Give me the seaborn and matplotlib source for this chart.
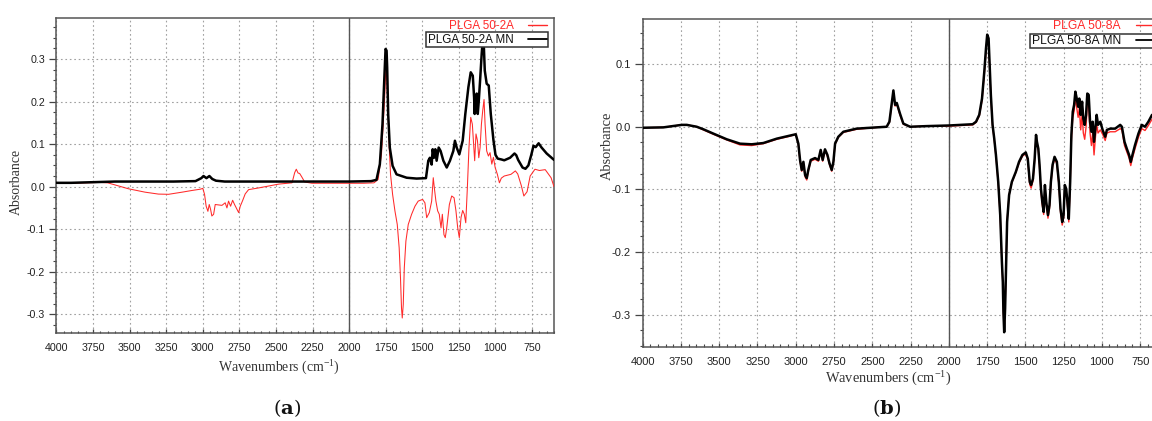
import numpy as np
import pandas as pd
import matplotlib
matplotlib.use("Agg")
import matplotlib.pyplot as plt
from matplotlib.lines import Line2D
from matplotlib.ticker import MultipleLocator, FormatStrFormatter
import seaborn as sns

# ── Data ────────────────────────────────────────────────────────────────────
# panel (a): PLGA 50-2A MN (black, thick)
A_MN_WN = [4000, 3900, 3800, 3700, 3600, 3400, 3200, 3050, 3010, 2995, 2975, 2955,
           2935, 2910, 2850, 2600, 2400, 2200, 2000, 1850, 1813, 1790, 1772, 1760,
           1751, 1744, 1740, 1733, 1722, 1703, 1676, 1607, 1539, 1475, 1459, 1448,
           1436, 1429, 1420, 1411, 1402, 1388, 1375, 1356, 1333, 1311, 1288, 1277,
           1265, 1247, 1224, 1206, 1185, 1169, 1155, 1146, 1142, 1137, 1133, 1128,
           1121, 1114, 1105, 1094, 1087, 1080, 1073, 1060, 1046, 1032, 1014, 1000,
           985, 960, 940, 900, 870, 858, 845, 815, 795, 775, 755, 740, 725, 705,
           685, 650, 600]
A_MN_ABS = [0.009, 0.009, 0.010, 0.011, 0.012, 0.012, 0.012, 0.013, 0.020, 0.025, 0.020, 0.025,
            0.018, 0.014, 0.012, 0.012, 0.012, 0.012, 0.012, 0.013, 0.016, 0.053, 0.147, 0.250,
            0.324, 0.320, 0.280, 0.170, 0.092, 0.049, 0.029, 0.021, 0.019, 0.020, 0.061, 0.068,
            0.052, 0.088, 0.068, 0.088, 0.061, 0.092, 0.084, 0.061, 0.045, 0.061, 0.084, 0.108,
            0.092, 0.076, 0.108, 0.171, 0.234, 0.269, 0.261, 0.210, 0.171, 0.210, 0.179, 0.219,
            0.171, 0.202, 0.250, 0.313, 0.345, 0.336, 0.273, 0.242, 0.238, 0.171, 0.110, 0.075,
            0.066, 0.064, 0.062, 0.068, 0.078, 0.074, 0.063, 0.045, 0.042, 0.050, 0.075, 0.096, 0.093, 0.102,
            0.092, 0.078, 0.063]

# panel (a): PLGA 50-2A (red, thin)
A_WN = [4000, 3900, 3800, 3700, 3650, 3580, 3508, 3394, 3303, 3234, 3142, 3074,
        3017, 3000, 2988, 2977, 2965, 2956, 2947, 2938, 2926, 2915, 2892, 2869,
        2847, 2835, 2824, 2810, 2796, 2783, 2765, 2755, 2744, 2728, 2710, 2687,
        2618, 2481, 2390, 2372, 2361, 2349, 2338, 2322, 2304, 2254, 2100, 1900,
        1830, 1802, 1779, 1767, 1756, 1749, 1742, 1735, 1726, 1717, 1703, 1687,
        1671, 1658, 1649, 1642, 1637, 1630, 1623, 1612, 1596, 1573, 1550, 1528,
        1498, 1482, 1470, 1464, 1452, 1436, 1425, 1418, 1407, 1395, 1384, 1372,
        1363, 1352, 1343, 1333, 1315, 1299, 1283, 1270, 1258, 1247, 1235, 1224,
        1213, 1203, 1192, 1181, 1169, 1158, 1149, 1142, 1133, 1123, 1114, 1105,
        1096, 1087, 1078, 1071, 1060, 1048, 1037, 1025, 1014, 1002, 987, 973,
        960, 940, 894, 864, 848, 823, 806, 784, 763, 730, 700, 660, 620, 600]
A_ABS = [0.008, 0.008, 0.009, 0.010, 0.009, 0.002, -0.005, -0.013, -0.0175, -0.018, -0.013, -0.009,
         -0.006, -0.004, -0.018, -0.046, -0.058, -0.042, -0.053, -0.069, -0.065, -0.042, -0.043, -0.044,
         -0.038, -0.050, -0.034, -0.046, -0.032, -0.042, -0.054, -0.061, -0.046, -0.033, -0.017, -0.007,
         -0.003, 0.006, 0.009, 0.033, 0.041, 0.032, 0.031, 0.022, 0.011, 0.008, 0.008, 0.008,
         0.009, 0.017, 0.076, 0.147, 0.218, 0.281, 0.250, 0.187, 0.092, 0.029, -0.018, -0.057,
         -0.089, -0.144, -0.215, -0.286, -0.309, -0.277, -0.191, -0.128, -0.089, -0.065, -0.046, -0.034,
         -0.030, -0.038, -0.073, -0.069, -0.061, -0.034, 0.021, -0.002, -0.034, -0.057, -0.065, -0.097,
         -0.065, -0.113, -0.120, -0.097, -0.042, -0.022, -0.026, -0.057, -0.097, -0.120, -0.072, -0.056,
         -0.065, -0.085, -0.002, 0.092, 0.163, 0.147, 0.100, 0.061, 0.124, 0.108, 0.068, 0.092,
         0.147, 0.179, 0.205, 0.147, 0.084, 0.072, 0.080, 0.053, 0.069, 0.045, 0.029, 0.009,
         0.020, 0.025, 0.029, 0.037, 0.030, 0.002, -0.022, -0.012, 0.025, 0.041, 0.038, 0.040, 0.021, 0.000]

# panel (b): shared wavenumber grid for PLGA 50-8A and PLGA 50-8A MN
B_WN = [4000, 3865, 3745, 3712, 3647, 3604, 3538, 3451, 3364, 3288, 3212, 3124,
        3037, 3000, 2983, 2972, 2961, 2950, 2939, 2928, 2918, 2902, 2874, 2852,
        2837, 2824, 2809, 2793, 2780, 2765, 2754, 2743, 2722, 2689, 2602, 2471,
        2406, 2388, 2373, 2362, 2351, 2340, 2319, 2297, 2253, 2147, 2000, 1844,
        1822, 1801, 1783, 1768, 1757, 1749, 1740, 1734, 1725, 1714, 1703, 1692,
        1677, 1664, 1653, 1647, 1643, 1638, 1632, 1625, 1619, 1606, 1588, 1562,
        1541, 1519, 1497, 1484, 1471, 1462, 1450, 1439, 1430, 1424, 1415, 1407,
        1398, 1389, 1380, 1372, 1363, 1352, 1342, 1333, 1322, 1309, 1294, 1281,
        1270, 1259, 1250, 1242, 1233, 1225, 1216, 1207, 1199, 1190, 1181, 1173,
        1164, 1155, 1147, 1138, 1129, 1121, 1112, 1103, 1095, 1086, 1077, 1068,
        1060, 1051, 1043, 1034, 1025, 1010, 995, 978, 967, 945, 913, 880,
        869, 852, 837, 822, 811, 800, 783, 761, 739, 718, 696, 672, 640, 600]
B_MN_ABS = [-0.0016, -0.001, 0.003, 0.003, 0.000, -0.004, -0.011, -0.020, -0.027, -0.028, -0.026, -0.019,
            -0.014, -0.012, -0.027, -0.053, -0.069, -0.056, -0.077, -0.082, -0.069, -0.053, -0.050, -0.053,
            -0.037, -0.053, -0.036, -0.045, -0.058, -0.069, -0.056, -0.027, -0.016, -0.008, -0.003, -0.001,
            0.000, 0.008, 0.037, 0.058, 0.035, 0.038, 0.021, 0.005, 0.000, 0.001, 0.002, 0.004,
            0.008, 0.019, 0.045, 0.088, 0.125, 0.147, 0.141, 0.104, 0.050, 0.003, -0.019, -0.045,
            -0.088, -0.141, -0.216, -0.248, -0.296, -0.328, -0.290, -0.216, -0.152, -0.109, -0.088, -0.072,
            -0.056, -0.045, -0.041, -0.051, -0.088, -0.093, -0.083, -0.051, -0.013, -0.024, -0.035, -0.061,
            -0.099, -0.120, -0.136, -0.093, -0.120, -0.141, -0.125, -0.088, -0.061, -0.048, -0.056, -0.088,
            -0.131, -0.152, -0.141, -0.093, -0.099, -0.120, -0.147, -0.088, -0.013, 0.024, 0.035, 0.056,
            0.045, 0.032, 0.045, 0.019, 0.040, 0.013, 0.003, 0.019, 0.053, 0.051, 0.008, -0.008,
            0.008, -0.024, -0.003, 0.019, 0.003, 0.008, -0.005, -0.016, -0.005, -0.003, -0.003, 0.003,
            0.000, -0.024, -0.035, -0.045, -0.056, -0.045, -0.029, -0.011, 0.003, 0.000, 0.008, 0.019, 0.015, 0.020]
B_ABS = [-0.0016, -0.001, 0.003, 0.003, 0.000, -0.005, -0.012, -0.021, -0.029, -0.030, -0.027, -0.020,
         -0.015, -0.012, -0.028, -0.055, -0.071, -0.058, -0.080, -0.085, -0.071, -0.055, -0.052, -0.055,
         -0.038, -0.055, -0.037, -0.047, -0.060, -0.071, -0.057, -0.028, -0.017, -0.009, -0.004, -0.001,
         0.000, 0.007, 0.035, 0.054, 0.033, 0.036, 0.019, 0.004, 0.000, 0.001, 0.001, 0.003,
         0.007, 0.017, 0.042, 0.084, 0.120, 0.142, 0.136, 0.100, 0.047, 0.001, -0.021, -0.047,
         -0.090, -0.143, -0.218, -0.250, -0.298, -0.326, -0.288, -0.214, -0.150, -0.109, -0.089, -0.073,
         -0.058, -0.047, -0.043, -0.054, -0.092, -0.098, -0.086, -0.054, -0.016, -0.027, -0.038, -0.065,
         -0.103, -0.125, -0.140, -0.098, -0.124, -0.146, -0.130, -0.092, -0.064, -0.051, -0.059, -0.092,
         -0.136, -0.157, -0.146, -0.098, -0.104, -0.125, -0.152, -0.093, -0.020, 0.015, 0.025, 0.048,
         0.030, 0.015, 0.030, -0.005, 0.020, -0.010, -0.020, 0.000, 0.040, 0.035, -0.010, -0.030,
         -0.010, -0.045, -0.020, 0.005, -0.010, -0.005, -0.012, -0.022, -0.010, -0.008, -0.008, -0.003,
         -0.005, -0.030, -0.040, -0.050, -0.062, -0.050, -0.035, -0.017, -0.003, -0.006, 0.002, 0.012, 0.010, 0.015]

SPLIT_WN = 2000          # solid marker line where the instrument splices ranges
X_LIM = (4000, 600)
A_YLIM = (-0.345, 0.396)
B_YLIM = (-0.352, 0.172)
X_TICKS = [4000, 3750, 3500, 3250, 3000, 2750, 2500, 2250, 2000, 1750, 1500, 1250, 1000, 750]

RED = "#ff2a2a"
BLACK = "#000000"

sns.set_theme(style="white")
plt.rcParams["font.family"] = ["Liberation Sans", "DejaVu Sans"]
plt.rcParams["axes.unicode_minus"] = False
plt.rcParams["mathtext.fontset"] = "dejavuserif"

fig = plt.figure(figsize=(11.52, 4.21), dpi=100)
ax_a = fig.add_axes([0.0490, 0.2083, 0.4319, 0.7482])
ax_b = fig.add_axes([0.5579, 0.1751, 0.4517, 0.7798])


def style_axis(ax, ylim, s):
    ax.set_xlim(*X_LIM)
    ax.set_ylim(*ylim)
    ax.set_xticks(X_TICKS)
    ax.xaxis.set_minor_locator(MultipleLocator(50))
    ax.yaxis.set_major_locator(MultipleLocator(0.1))
    ax.yaxis.set_minor_locator(MultipleLocator(0.025))
    ax.yaxis.set_major_formatter(FormatStrFormatter("%.1f"))
    ax.tick_params(axis="x", which="major", direction="in", length=3.0 * s, width=0.9,
                   color="#444444", pad=6.8 * s, labelsize=7.7 * s, labelcolor="#222222")
    ax.tick_params(axis="x", which="minor", direction="in", length=1.8 * s, width=0.8, color="#444444")
    ax.tick_params(axis="y", which="major", direction="out", length=5.2 * s, width=0.9,
                   color="#444444", pad=3.0 * s, labelsize=7.7 * s, labelcolor="#222222")
    ax.tick_params(axis="y", which="minor", direction="out", length=2.4 * s, width=0.8, color="#444444")
    ax.tick_params(bottom=True, left=True, top=False, right=False)
    ax.tick_params(which="minor", bottom=True, left=True, top=False, right=False)
    ax.grid(True, which="major", color="#a0a0a0", linestyle=(0, (1.5, 2.5)), linewidth=0.8)
    ax.set_axisbelow(True)
    for sp in ax.spines.values():
        sp.set_color("#555555")
        sp.set_linewidth(1.1)
    ax.axvline(SPLIT_WN, color="#555555", linewidth=1.0, zorder=1.5)
    ax.set_xlabel("")
    ax.set_ylabel("")


def add_legend(ax, red_label, black_label, s):
    fs = 8.4 * s
    kw = dict(loc="upper right", markerfirst=False, fontsize=fs, handlelength=1.6,
              handletextpad=1.25, borderpad=0.12, borderaxespad=0)
    leg1 = ax.legend(handles=[Line2D([], [], color=RED, lw=1.0)], labels=[red_label],
                     bbox_to_anchor=(0.9885, 1.0), frameon=False, labelcolor=RED, **kw)
    ax.add_artist(leg1)
    leg2 = ax.legend(handles=[Line2D([], [], color=BLACK, lw=1.3)], labels=[black_label],
                     bbox_to_anchor=(0.9885, 0.9556), frameon=True, fancybox=False,
                     edgecolor="#333333", framealpha=1, labelcolor="#111111", **kw)
    leg2.get_frame().set_linewidth(1.1)


# ── (a) PLGA 50-2A ──────────────────────────────────────────────────────────
df_a = pd.DataFrame({"wn": A_WN, "abs": A_ABS})
df_amn = pd.DataFrame({"wn": A_MN_WN, "abs": A_MN_ABS})
sns.lineplot(data=df_a, x="wn", y="abs", ax=ax_a, color=RED, linewidth=0.75,
             sort=False, estimator=None, zorder=3)
sns.lineplot(data=df_amn, x="wn", y="abs", ax=ax_a, color=BLACK, linewidth=1.8,
             sort=False, estimator=None, zorder=4)
style_axis(ax_a, A_YLIM, 1.0)
add_legend(ax_a, "PLGA 50-2A", "PLGA 50-2A MN", 1.0)

# ── (b) PLGA 50-8A ──────────────────────────────────────────────────────────
df_b = pd.DataFrame({"wn": B_WN, "abs": B_ABS})
df_bmn = pd.DataFrame({"wn": B_WN, "abs": B_MN_ABS})
sns.lineplot(data=df_b, x="wn", y="abs", ax=ax_b, color=RED, linewidth=1.0,
             sort=False, estimator=None, zorder=3)
sns.lineplot(data=df_bmn, x="wn", y="abs", ax=ax_b, color=BLACK, linewidth=1.8,
             sort=False, estimator=None, zorder=4)
style_axis(ax_b, B_YLIM, 1.045)
add_legend(ax_b, "PLGA 50-8A", "PLGA 50-8A MN", 1.045)

# ── Labels (serif, as in the paper figure) ──────────────────────────────────
lab = dict(family="Liberation Serif", color="#333333", ha="center", va="center")
fig.text(0.242, 0.126, r"Wavenumbers (cm$\mathregular{^{-1}}$)", fontsize=10, **lab)
fig.text(0.771, 0.101, r"Wavenumbers (cm$\mathregular{^{-1}}$)", fontsize=10.4, **lab)
fig.text(0.0144, 0.568, "Absorbance", fontsize=10, rotation=90, **lab)
fig.text(0.527, 0.653, "Absorbance", fontsize=10.4, rotation=90, **lab)

cap = dict(family="DejaVu Serif", color="#111111", ha="center", va="center", fontsize=14)
fig.text(0.2496, 0.031, r"($\mathbf{a}$)", **cap)
fig.text(0.770, 0.031, r"($\mathbf{b}$)", **cap)

fig.savefig("out.png", dpi=100)
